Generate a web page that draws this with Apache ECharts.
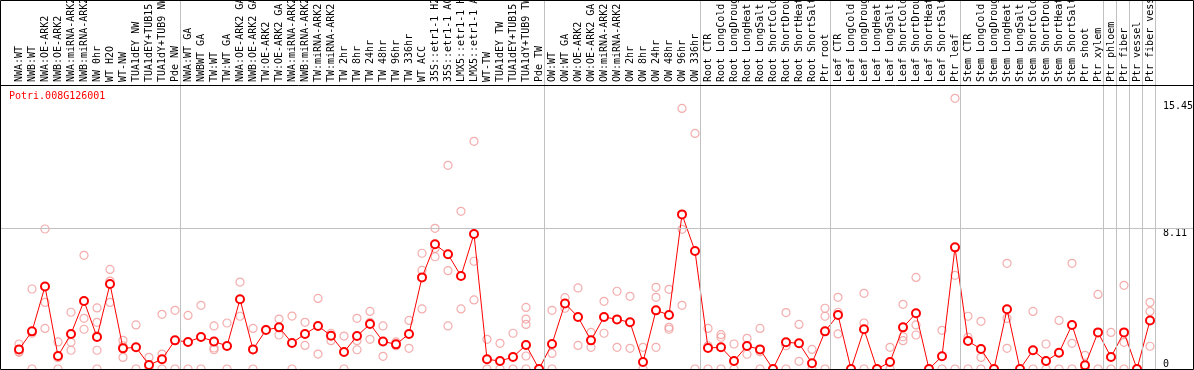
<!DOCTYPE html>
<html>
<head>
<meta charset="utf-8">
<script src="https://cdn.jsdelivr.net/npm/echarts@6/dist/echarts.min.js"></script>
<style>
html,body{margin:0;padding:0;background:#fff;}
#chart{width:1194px;height:370px;}
</style>
</head>
<body>
<div id="chart"></div>
<script>
const geneId = 'Potri.008G126001';

const categories = [
  'NWA:WT','NWB:WT','NWA:OE-ARK2','NWB:OE-ARK2','NWA:miRNA-ARK2','NWB:miRNA-ARK2','NW 0hr','WT H2O','WT-NW','TUA1dEY NW','TUA1dEY+TUB15 NW','TUA1dY+TUB9 NW','Pde NW',
  'NWA:WT GA','NWBWT GA','TW:WT','TW:WT GA','NWA:OE-ARK2 GA','NWB:OE-ARK2 GA','TW:OE-ARK2','TW:OE-ARK2 GA','NWA:miRNA-ARK2 GA','NWB:miRNA-ARK2 GA','TW:miRNA-ARK2','TW:miRNA-ARK2 GA',
  'TW 2hr','TW 8hr','TW 24hr','TW 48hr','TW 96hr','TW 336hr','WT ACC','35S::etr1-1 H2O','35S::etr1-1 ACC','LMX5::etr1-1 H2O','LMX5::etr1-1 ACC','WT-TW','TUA1dEY TW','TUA1dEY+TUB15 TW','TUA1dY+TUB9 TW','Pde TW',
  'OW:WT','OW:WT GA','OW:OE-ARK2','OW:OE-ARK2 GA','OW:miRNA-ARK2','OW:miRNA-ARK2 GA','OW 2hr','OW 8hr','OW 24hr','OW 48hr','OW 96hr','OW 336hr',
  'Root CTR','Root LongCold','Root LongDrought','Root LongHeat','Root LongSalt','Root ShortCold','Root ShortDrought','Root ShortHeat','Root ShortSalt','Ptr root',
  'Leaf CTR','Leaf LongCold','Leaf LongDrought','Leaf LongHeat','Leaf LongSalt','Leaf ShortCold','Leaf ShortDrought','Leaf ShortHeat','Leaf ShortSalt','Ptr leaf',
  'Stem CTR','Stem LongCold','Stem LongDrought','Stem LongHeat','Stem LongSalt','Stem ShortCold','Stem ShortDrought','Stem ShortHeat','Stem ShortSalt','Ptr shoot','Ptr xylem',
  'Ptr phloem','Ptr fiber','Ptr vessel','Ptr fiber vessel'
];

// sizes of the sample groups separated by vertical rules
const groupSizes = [13, 28, 12, 10, 10, 11, 1, 1, 1, 1];

const means = [
  1.13, 2.17, 4.76, 0.75, 2.02, 3.92, 1.84, 4.90, 1.19, 1.25,
  0.23, 0.56, 1.65, 1.56, 1.84, 1.59, 1.33, 4.02, 1.13, 2.25,
  2.40, 1.50, 2.02, 2.48, 1.92, 0.98, 1.90, 2.59, 1.59, 1.42,
  2.02, 5.28, 7.19, 6.61, 5.36, 7.78, 0.56, 0.46, 0.69, 1.38,
  0, 1.44, 3.78, 3.00, 1.65, 3.00, 2.86, 2.69, 0.40, 3.38,
  3.11, 8.91, 6.80, 1.21, 1.25, 0.46, 1.33, 1.13, 0, 1.54,
  1.48, 0.33, 2.17, 3.11, 0, 2.29, 0, 0.40, 2.40, 3.21,
  0, 0.73, 7.01, 1.61, 1.15, 0, 3.44, 0, 1.08, 0.46,
  0.94, 2.54, 0.21, 2.11, 0.69, 2.11, 0, 2.80
];

const replicates = [
  [1.44, 0.99, 0.96], [4.61, 2.06, 0], [8.07, 3.84, 2.34], [1.56, 0.65, 0], [3.27, 1.54, 1.08],
  [6.55, 2.92, 2.29], [3.52, 2.69, 1.92, 1.08, 0], [5.74, 5.07, 3.84], [1.65, 1.34, 0.67], [2.54, 0],
  [0.67, 0], [3.15, 0.86, 0], [3.38, 0], [3.09, 0], [3.67, 0],
  [2.48, 1.21, 1.11], [2.65, 0], [5.01, 3.04], [2.34, 0], [2.29],
  [2.88, 1.96], [3.05, 0], [2.69, 1.36], [4.07, 0.86], [2.06, 1.63],
  [1.90, 0], [2.92, 1.63, 1.11], [3.32, 2.69, 1.71], [2.48, 0.73], [1.56, 1.34],
  [2.80, 1.19], [6.67, 5.69, 3.46], [8.11, 6.95, 6.47], [11.74, 5.67, 2.48], [9.09, 3.46],
  [13.12, 6.21, 3.98], [1.71, 0], [1.48, 0], [2.06, 0], [3.55, 2.88, 2.57, 0.75, 0],
  [0], [3.38, 0.90, 0], [4.11, 3.50], [4.67, 1.36], [2.11, 1.25],
  [3.90, 2.06], [4.48, 1.25], [4.19, 1.19], [1.25, 0], [4.71, 4.13, 1.25],
  [4.59, 2.40, 2.29], [15.02, 8.05, 3.67], [13.58, 0], [2.34, 1.34, 0], [1.98, 1.83, 0],
  [1.44, 0], [1.77, 0.85], [2.34, 1.00, 0], [0], [3.25, 1.34, 0],
  [2.57, 0.44], [1.13, 0], [3.50, 3.04, 0], [4.13, 3.27, 2.02], [0],
  [4.36, 2.65, 0], [0], [1.25, 0], [3.73, 1.86, 1.63], [5.28, 2.54, 1.96],
  [0], [2.23, 0], [15.60, 5.40, 0], [3.04, 1.83, 0], [2.75, 0.67, 0],
  [0], [6.09, 2.92, 1.19], [0], [3.32, 0], [1.44, 0],
  [2.80, 0], [6.09, 1.48, 0], [0.79, 0], [4.30, 0], [2.11, 0],
  [4.82, 1.54, 0], [0], [3.84, 3.32, 1.31]
];

const yTickLabels = [8.11, 15.45];
const yZeroLabel = [0];
const gridValue = 8.11;

const font = 'DejaVu Sans Mono';
const yMax = 21.21;

const bounds = [0];
groupSizes.forEach(s => bounds.push(bounds[bounds.length - 1] + s));

const repData = [];
replicates.forEach((arr, i) => arr.forEach(v => repData.push([i, v])));

const chart = echarts.init(document.getElementById('chart'), null, {renderer: 'canvas'});
chart.setOption({
  animation: false,
  backgroundColor: '#ffffff',
  title: {
    text: geneId, left: 9, top: 91, padding: 0,
    textStyle: {color: '#ff0000', fontSize: 10, fontWeight: 'normal', fontFamily: font}
  },
  grid: [
    {left: 12.5, right: 37.5, top: 1, bottom: 1, containLabel: false, outerBoundsMode: 'none'},
    {left: 1, right: 1, top: 1, bottom: 1, containLabel: false, outerBoundsMode: 'none'}
  ],
  xAxis: [
    {
      type: 'category', gridIndex: 0, data: categories, position: 'top', offset: -84,
      boundaryGap: true,
      axisLine: {show: false}, axisTick: {show: false}, splitLine: {show: false},
      axisLabel: {interval: 0, rotate: 90, margin: 3, fontSize: 10, fontFamily: font, color: '#000'}
    },
    {type: 'value', gridIndex: 0, min: 1 / 13, max: 88 + 1 / 13, show: false},
    {type: 'value', gridIndex: 1, min: 0, max: 1, show: false}
  ],
  yAxis: [
    {
      type: 'value', gridIndex: 0, min: 0, max: yMax, position: 'right',
      axisLine: {show: false}, axisTick: {show: false}, splitLine: {show: false},
      axisLabel: {customValues: yTickLabels, margin: 6.5, align: 'left', verticalAlign: 'top',
        fontSize: 10, fontFamily: font, color: '#000'}
    },
    {
      type: 'value', gridIndex: 1, min: 0, max: yMax, position: 'right',
      axisLine: {show: false}, axisTick: {show: false}, splitLine: {show: false},
      axisLabel: {inside: true, customValues: yZeroLabel, margin: 30, align: 'left', verticalAlign: 'bottom',
        fontSize: 10, fontFamily: font, color: '#000'}
    }
  ],
  series: [
    {
      type: 'line', xAxisIndex: 1, yAxisIndex: 0, data: [], silent: true, z: 0,
      markLine: {
        silent: true, symbol: ['none', 'none'], label: {show: false}, animation: false,
        lineStyle: {color: '#c0c0c0', width: 1, type: 'solid'},
        data: bounds.map(b => ({xAxis: b}))
      }
    },
    {
      type: 'line', xAxisIndex: 2, yAxisIndex: 1, data: [], silent: true, z: 0,
      markLine: {
        silent: true, symbol: ['none', 'none'], label: {show: false}, animation: false,
        lineStyle: {color: '#c0c0c0', width: 1, type: 'solid'},
        data: [{yAxis: gridValue}]
      }
    },
    {
      type: 'scatter', xAxisIndex: 0, yAxisIndex: 0, data: repData, z: 3,
      symbol: 'circle', symbolSize: 8,
      itemStyle: {color: 'rgba(255,255,255,0)', borderColor: '#f09898', borderWidth: 1.2}
    },
    {
      type: 'line', xAxisIndex: 0, yAxisIndex: 0, data: means, z: 4,
      symbol: 'emptyCircle', symbolSize: 8, showAllSymbol: true,
      lineStyle: {color: '#ff0000', width: 1},
      itemStyle: {color: '#ff0000', borderColor: '#ff0000', borderWidth: 1.5}
    }
  ],
  graphic: [
    {type: 'rect', z: 100, silent: true, shape: {x: 0.5, y: 0.5, width: 1193, height: 369},
      style: {fill: null, stroke: '#000', lineWidth: 1}},
    {type: 'line', z: 100, silent: true, shape: {x1: 0, y1: 85.5, x2: 1194, y2: 85.5},
      style: {stroke: '#000', lineWidth: 1}}
  ]
});
</script>
</body>
</html>
